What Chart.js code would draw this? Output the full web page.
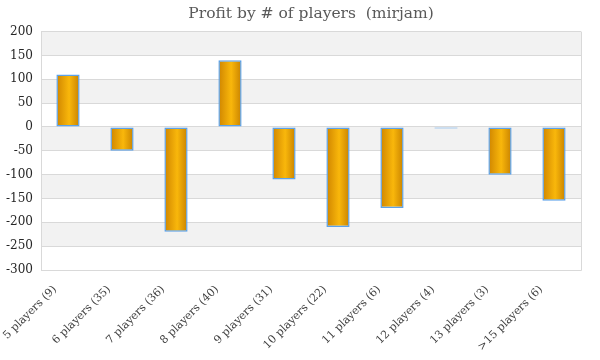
<!DOCTYPE html>
<html>
<head>
<meta charset="utf-8">
<script src="https://cdn.jsdelivr.net/npm/chart.js@4/dist/chart.umd.min.js"></script>
<style>
  html, body { margin: 0; padding: 0; background: #fff; }
  #wrap { width: 600px; height: 360px; }
</style>
</head>
<body>
<div id="wrap"><canvas id="graph"></canvas></div>
<script>
// Data
const labels = ["5 players (9)", "6 players (35)", "7 players (36)", "8 players (40)", "9 players (31)",
                "10 players (22)", "11 players (6)", "12 players (4)", "13 players (3)", ">15 players (6)"];
const profit = [110, -50, -220, 140, -110, -210, -170, -3, -100, -155];
const yMin = -300, yMax = 200, yStep = 50;

const serif = "'DejaVu Serif', 'Liberation Serif', serif";

// Excel-like orange cylinder look: horizontal gradient across each bar
function barFill(ctx) {
    const chart = ctx.chart;
    if (!chart.chartArea) return "#f0a800";
    const xs = chart.scales.x;
    const cx = xs.getPixelForValue(ctx.dataIndex);
    const half = xs.width / labels.length * 0.43 / 2;
    const g = chart.ctx.createLinearGradient(cx - half, 0, cx + half, 0);
    g.addColorStop(0, "#cf8500");
    g.addColorStop(0.55, "#f9b70b");
    g.addColorStop(1, "#c88200");
    return g;
}

// Alternating grey bands and the plot frame
const bands = {
    id: "bands",
    beforeDraw(chart) {
        const {ctx, chartArea: a, scales: {y}} = chart;
        ctx.save();
        ctx.fillStyle = "#fff";
        ctx.fillRect(0, 0, chart.width, chart.height);
        ctx.fillStyle = "#f2f2f2";
        for (let v = yMax; v > yMin; v -= 2 * yStep) {
            const top = y.getPixelForValue(v), bot = y.getPixelForValue(v - yStep);
            ctx.fillRect(a.left, top, a.right - a.left, bot - top);
        }
        ctx.restore();
    },
    afterDraw(chart) {
        const {ctx, chartArea: a} = chart;
        ctx.save();
        ctx.strokeStyle = "#d9d9d9";
        ctx.lineWidth = 1;
        ctx.beginPath();
        ctx.moveTo(a.left + 0.5, a.top);
        ctx.lineTo(a.left + 0.5, a.bottom + 0.5);
        ctx.lineTo(a.right + 0.5, a.bottom + 0.5);
        ctx.lineTo(a.right + 0.5, a.top);
        ctx.stroke();
        ctx.restore();
    }
};

new Chart("graph", {
    type: "bar",
    data: {
        labels: labels,
        datasets: [{
            data: profit,
            backgroundColor: barFill,
            borderColor: "#5ca2ea",
            borderWidth: 1.5,
            borderSkipped: false,
            barPercentage: 0.43,
            categoryPercentage: 1
        }]
    },
    plugins: [bands],
    options: {
        responsive: true,
        maintainAspectRatio: false,
        animation: false,
        layout: { padding: { top: 0, left: 0, right: 19, bottom: 0 } },
        plugins: {
            legend: { display: false },
            tooltip: { enabled: false },
            title: {
                display: true,
                fullSize: false,
                text: "Profit by # of players  (mirjam)",
                color: "#595959",
                font: { family: serif, size: 15.5, weight: "normal" },
                padding: { top: 5, bottom: 8 }
            }
        },
        scales: {
            y: {
                min: yMin,
                max: yMax,
                ticks: { stepSize: yStep, color: "#262626", padding: 8, font: { family: serif, size: 12 } },
                grid: { color: "#d9d9d9", drawTicks: false },
                border: { display: false },
                afterFit: (s) => { s.width = 41; }
            },
            x: {
                ticks: {
                    color: "#404040",
                    minRotation: 45,
                    maxRotation: 45,
                    padding: 5,
                    labelOffset: -13,
                    font: { family: serif, size: 11 }
                },
                grid: { display: false },
                border: { display: false },
                afterFit: (s) => { s.height = 90; }
            }
        }
    }
});
</script>
</body>
</html>
